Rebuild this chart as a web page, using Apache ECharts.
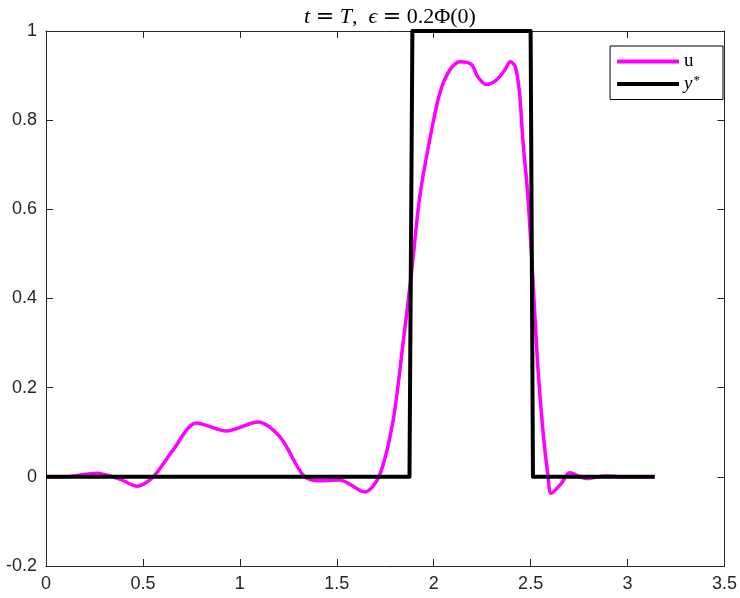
<!DOCTYPE html>
<html>
<head>
<meta charset="utf-8">
<script src="https://cdn.jsdelivr.net/npm/echarts@6/dist/echarts.min.js"></script>
<style>
  html, body { margin: 0; padding: 0; background: #fff; }
  #myChart { width: 740px; height: 598px; }
</style>
</head>
<body>
<div id="myChart"></div>
<script>
// u(x)
const uX = [0, 0.1, 0.26, 0.38, 0.47, 0.553, 0.655, 0.777, 0.93, 1.094, 1.206, 1.326, 1.395, 1.515, 1.644,
  1.72, 1.79, 1.842, 1.885, 1.928, 1.979, 2.031, 2.082, 2.134, 2.194, 2.228, 2.271, 2.323, 2.366, 2.395,
  2.421, 2.443, 2.46, 2.486, 2.51, 2.536, 2.563, 2.59, 2.606, 2.658, 2.701, 2.787, 2.89, 2.99, 3.14];
const uY = [0, 0, 0.008, -0.005, -0.021, 0, 0.06, 0.121, 0.103, 0.123, 0.09, 0.004, -0.009, -0.007, -0.034,
  0.003, 0.125, 0.30, 0.456, 0.628, 0.755, 0.86, 0.912, 0.931, 0.925, 0.897, 0.88, 0.89, 0.912, 0.931,
  0.92, 0.86, 0.755, 0.628, 0.456, 0.254, 0.105, 0, -0.037, -0.015, 0.009, -0.004, 0.002, 0, 0];
// target y*(x)
const yStarX = [0, 1.875, 1.89, 2.5, 2.512, 3.14];
const yStarY = [0, 0, 1, 1, 0, 0];

const pairs = (xs, ys) => xs.map((x, i) => [x, ys[i]]);

const axisColor = '#262626';
const labelFont = { color: axisColor, fontSize: 18, fontFamily: 'Liberation Sans, Arial, sans-serif' };
const serif = 'Liberation Serif, serif';

const myChart = echarts.init(document.getElementById('myChart'));
myChart.setOption({
  animation: false,
  backgroundColor: '#fff',
  title: {
    text: '{i|t} {e|=} {i|T},  {i|\u03f5} {e|=} 0.2\u03a6(0)',
    left: 385,
    textAlign: 'center',
    top: 1,
    textStyle: {
      fontFamily: serif,
      fontWeight: 'normal',
      fontSize: 22,
      color: '#000',
      rich: {
        i: { fontStyle: 'italic', fontFamily: serif, fontSize: 22, color: '#000' },
        e: { fontFamily: 'DejaVu Serif, serif', fontSize: 22, color: '#000' },
      },
    },
  },
  grid: { left: 46, right: 15, top: 31, bottom: 32 },
  legend: {
    orient: 'vertical',
    right: 17,
    top: 46,
    icon: 'rect',
    itemWidth: 62,
    itemHeight: 4,
    itemGap: 3,
    padding: [6, 23, 6, 7],
    borderColor: '#000',
    borderWidth: 1,
    backgroundColor: '#fff',
    data: ['u', 'y*'],
    formatter(name) {
      return name === 'u' ? '{r|u}' : '{i|y}{s|*}';
    },
    textStyle: {
      fontFamily: serif,
      fontSize: 19,
      color: '#000',
      rich: {
        r: { fontFamily: serif, fontSize: 19, color: '#000' },
        i: { fontFamily: serif, fontStyle: 'italic', fontSize: 19, color: '#000' },
        s: { fontFamily: serif, fontSize: 13, color: '#000', verticalAlign: 'top', padding: [0, 0, 7, 1] },
      },
    },
  },
  xAxis: [
    {
      type: 'value', min: 0, max: 3.5, interval: 0.5, position: 'bottom',
      axisLine: { onZero: false, lineStyle: { color: axisColor, width: 1 } },
      axisTick: { inside: true, length: 7, lineStyle: { color: axisColor } },
      axisLabel: Object.assign({ margin: 9, formatter: v => String(+v.toFixed(2)) }, labelFont),
      splitLine: { show: false },
    },
    {
      type: 'value', min: 0, max: 3.5, interval: 0.5, position: 'top',
      axisLine: { onZero: false, lineStyle: { color: axisColor, width: 1 } },
      axisTick: { inside: true, length: 7, lineStyle: { color: axisColor } },
      axisLabel: { show: false },
      splitLine: { show: false },
    },
  ],
  yAxis: [
    {
      type: 'value', min: -0.2, max: 1, interval: 0.2, position: 'left',
      axisLine: { show: true, onZero: false, lineStyle: { color: axisColor, width: 1 } },
      axisTick: { show: true, inside: true, length: 7, lineStyle: { color: axisColor } },
      axisLabel: Object.assign({ margin: 9, formatter: v => String(+v.toFixed(2)) }, labelFont),
      splitLine: { show: false },
    },
    {
      type: 'value', min: -0.2, max: 1, interval: 0.2, position: 'right',
      axisLine: { show: true, onZero: false, lineStyle: { color: axisColor, width: 1 } },
      axisTick: { show: true, inside: true, length: 7, lineStyle: { color: axisColor } },
      axisLabel: { show: false },
      splitLine: { show: false },
    },
  ],
  series: [
    {
      name: 'u',
      type: 'line',
      data: pairs(uX, uY),
      smooth: 0.3,
      symbol: 'none',
      lineStyle: { color: '#ff00ff', width: 3.5 },
      itemStyle: { color: '#ff00ff' },
    },
    {
      name: 'y*',
      type: 'line',
      data: pairs(yStarX, yStarY),
      symbol: 'none',
      lineStyle: { color: '#000', width: 4, join: 'round' },
      itemStyle: { color: '#000' },
    },
  ],
});
</script>
</body>
</html>
